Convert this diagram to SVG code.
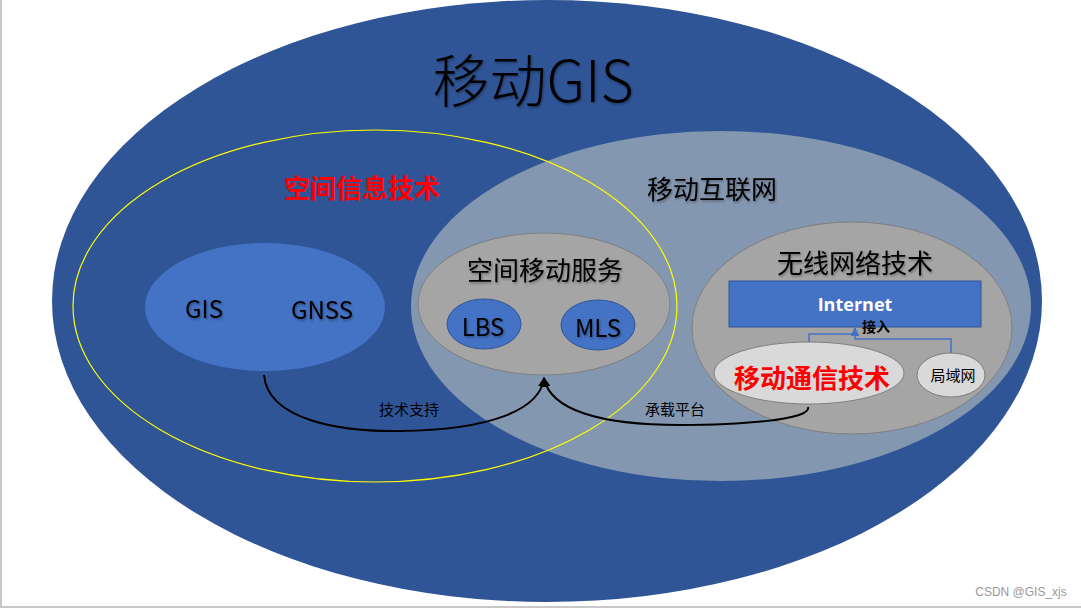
<svg xmlns="http://www.w3.org/2000/svg" width="1081" height="609" viewBox="0 0 1081 609">
<defs>
<style>
.t{font-family:"Noto Sans CJK SC","Liberation Sans",sans-serif;text-anchor:middle;dominant-baseline:central;fill:#000}
.red{fill:#FF0000;font-weight:bold}
.conn{fill:none;stroke:#000;stroke-width:2}
.blue{fill:none;stroke:#4472C4;stroke-width:1.5}
.lbl{font-family:"Noto Sans CJK SC","Liberation Serif",serif;font-size:15px;text-anchor:middle;dominant-baseline:central;fill:#000}
</style>
<filter id="sh" x="-10%" y="-10%" width="120%" height="130%">
<feDropShadow dx="1" dy="1.5" stdDeviation="1" flood-color="#000" flood-opacity="0.35"/>
</filter>
<marker id="ah" viewBox="0 0 10 10" refX="9" refY="5" markerWidth="5" markerHeight="5" orient="auto">
<path d="M0,0 L10,5 L0,10 Z" fill="#000"/>
</marker>
<marker id="ahb" viewBox="0 0 10 10" refX="9" refY="5" markerWidth="6" markerHeight="6" orient="auto">
<path d="M0,0 L10,5 L0,10 Z" fill="#4472C4"/>
</marker>
</defs>
<rect width="1081" height="609" fill="#fff"/>
<line x1="1" y1="0" x2="1" y2="607" stroke="#c8c8c8" stroke-width="2"/>
<line x1="0" y1="607" x2="1081" y2="607" stroke="#c8c8c8" stroke-width="2"/>

<g id="mobile-gis">
<ellipse cx="547" cy="301" rx="495" ry="301" fill="#2F5597"/>
<text class="t" x="533" y="77" font-size="57" font-weight="300" filter="url(#sh)">移动GIS</text>
</g>

<g id="mobile-internet">
<ellipse cx="721" cy="306" rx="310" ry="175" fill="#8497B0"/>
<text class="t" x="712" y="187" font-size="26" filter="url(#sh)">移动互联网</text>
</g>

<g id="spatial-info">
<ellipse cx="375" cy="306" rx="302" ry="176" fill="none" stroke="#FFFF00" stroke-width="1.2"/>
<text class="t red" x="362" y="186" font-size="26">空间信息技术</text>
</g>

<g id="gis-gnss">
<ellipse cx="265" cy="307" rx="120" ry="64" fill="#4472C4"/>
<text class="t" x="204" y="307" font-size="24" filter="url(#sh)">GIS</text>
<text class="t" x="322" y="308" font-size="24" filter="url(#sh)">GNSS</text>
</g>

<g id="spatial-mobile-service">
<ellipse cx="544" cy="304" rx="126" ry="71" fill="#A5A5A5" stroke="#7F7F7F" stroke-width="1"/>
<text class="t" x="545" y="268" font-size="26" filter="url(#sh)">空间移动服务</text>
</g>

<g id="lbs">
<ellipse cx="484" cy="324" rx="37" ry="25" fill="#4472C4" stroke="#2F5597" stroke-width="1"/>
<text class="t" x="483" y="325" font-size="24" filter="url(#sh)">LBS</text>
</g>

<g id="mls">
<ellipse cx="598" cy="325" rx="37" ry="25" fill="#4472C4" stroke="#2F5597" stroke-width="1"/>
<text class="t" x="598" y="326" font-size="24" filter="url(#sh)">MLS</text>
</g>

<g id="wireless">
<ellipse cx="852" cy="328" rx="160" ry="106" fill="#A5A5A5" stroke="#7F7F7F" stroke-width="1"/>
<text class="t" x="855" y="261" font-size="26" filter="url(#sh)">无线网络技术</text>
</g>

<g id="internet">
<rect x="729" y="281" width="252" height="46" fill="#4472C4" stroke="#2F5597" stroke-width="1"/>
<text class="t" x="855" y="304" font-size="18" font-weight="bold" style="fill:#fff;font-family:'Open Sans','Liberation Sans',sans-serif">Internet</text>
</g>

<g id="mobile-comm">
<ellipse cx="809" cy="373" rx="95" ry="31" fill="#D9D9D9" stroke="#7F7F7F" stroke-width="1"/>
<text class="t red" x="812" y="376" font-size="26">移动通信技术</text>
</g>

<g id="lan">
<ellipse cx="951" cy="375" rx="34" ry="22" fill="#D9D9D9" stroke="#7F7F7F" stroke-width="1"/>
<text class="t" x="953" y="374" font-size="15">局域网</text>
</g>

<g id="connectors">
<path class="conn" d="M264,375 C268,420 340,432 400,431 C490,430 540,410 544,378" marker-end="url(#ah)"/>
<path class="conn" d="M808,407 C812,420 740,425 680,425 C600,425 550,410 544,378" marker-end="url(#ah)"/>
<text class="lbl" x="409" y="408">技术支持</text>
<text class="lbl" x="675" y="408">承载平台</text>
<path class="blue" d="M809,342 L809,334 L855,334 L855,328" marker-end="url(#ahb)"/>
<path class="blue" d="M951,353 L951,339 L855,339 L855,334"/>
<text x="876" y="326" font-family="'Noto Sans CJK SC','Liberation Serif',serif" font-size="14" font-weight="bold" text-anchor="middle" dominant-baseline="central">接入</text>
</g>

<text x="1021" y="592" font-family="'Liberation Sans',sans-serif" font-size="12" fill="#999" text-anchor="middle" dominant-baseline="central">CSDN @GIS_xjs</text>
</svg>
